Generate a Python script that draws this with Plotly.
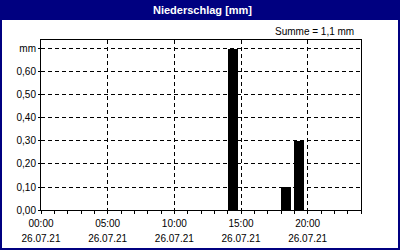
import plotly.graph_objects as go

# Data
hours = [14, 18, 19]
precip_mm = [0.7, 0.1, 0.3]
y_ticks = [0.0, 0.1, 0.2, 0.3, 0.4, 0.5, 0.6, 0.7]
y_ticktext = ["0,00", "0,10", "0,20", "0,30", "0,40", "0,50", "0,60", "mm"]
x_ticks = [0, 5, 10, 15, 20]
x_time_text = ["00:00", "05:00", "10:00", "15:00", "20:00"]
x_date_text = ["26.07.21"] * 5
title_text = "Niederschlag [mm]"
sum_text = "Summe = 1,1 mm"

FONT = "Liberation Sans, Arial, sans-serif"
W, H = 400, 250
NAVY = "#000080"

fig = go.Figure()
fig.add_trace(go.Bar(x=hours, y=precip_mm, width=0.75, offset=0,
                     marker=dict(color="black", line=dict(width=0)),
                     xaxis="x", yaxis="y", hoverinfo="skip"))

x0, x1 = 41, 361
ytop, ybot = 40, 210

common_font = dict(family=FONT, size=10, color="black")

fig.update_layout(
    template="none",
    width=W, height=H,
    margin=dict(l=0, r=0, t=0, b=0, pad=0, autoexpand=False),
    paper_bgcolor="white", plot_bgcolor="white",
    showlegend=False,
    bargap=0,
    xaxis=dict(domain=[x0 / W, x1 / W], range=[0, 24], automargin=False,
               tickvals=x_ticks, ticktext=x_time_text,
               ticks="outside", ticklen=3, tickcolor="black", tickwidth=1,
               minor=dict(dtick=1, ticks="outside", ticklen=3, tickcolor="black", tickwidth=1, showgrid=False),
               showgrid=True, gridcolor="black", gridwidth=1, griddash="4px,3px",
               showline=True, linecolor="black", linewidth=1, mirror=True,
               ticklabelstandoff=1,
               zeroline=False, tickfont=common_font, fixedrange=True),
    xaxis2=dict(domain=[x0 / W, x1 / W], range=[0, 24], overlaying="x", anchor="y",
                side="bottom", tickvals=x_ticks, ticktext=x_date_text, automargin=False,
                ticks="", showgrid=False, showline=False, zeroline=False,
                ticklabelstandoff=21, tickfont=common_font, fixedrange=True),
    yaxis=dict(domain=[(H - ybot) / H, (H - ytop) / H], range=[0, 0.739], automargin=False,
               tickvals=y_ticks, ticktext=y_ticktext,
               ticks="outside", ticklen=2, tickcolor="black", tickwidth=1,
               showgrid=True, gridcolor="black", gridwidth=1, griddash="4px,3px",
               showline=True, linecolor="black", linewidth=1, mirror=True,
               zeroline=False, tickfont=common_font, fixedrange=True),
)

# invisible trace to activate xaxis2
fig.add_trace(go.Scatter(x=[0], y=[0], xaxis="x2", yaxis="y", mode="markers",
                         marker=dict(opacity=0), hoverinfo="skip"))

shapes = [
    dict(type="rect", xref="paper", yref="paper", x0=0, x1=1, y0=(H - 20) / H, y1=1,
         fillcolor=NAVY, line=dict(width=0), layer="above"),
    dict(type="rect", xref="paper", yref="paper", x0=0, x1=2 / W, y0=0, y1=1,
         fillcolor=NAVY, line=dict(width=0), layer="above"),
    dict(type="rect", xref="paper", yref="paper", x0=(W - 2) / W, x1=1, y0=0, y1=1,
         fillcolor=NAVY, line=dict(width=0), layer="above"),
    dict(type="rect", xref="paper", yref="paper", x0=0, x1=1, y0=0, y1=2 / H,
         fillcolor=NAVY, line=dict(width=0), layer="above"),
]
fig.update_layout(shapes=shapes)

fig.add_annotation(text="<b>" + title_text + "</b>", xref="paper", yref="paper",
                   x=203 / W, y=(H - 10) / H, xanchor="center", yanchor="middle",
                   showarrow=False, font=dict(family=FONT, size=11, color="white"))
fig.add_annotation(text=sum_text, xref="paper", yref="paper",
                   x=356 / W, y=(H - 31) / H, xanchor="right", yanchor="middle",
                   showarrow=False, font=common_font)

fig.write_html("out.html")
